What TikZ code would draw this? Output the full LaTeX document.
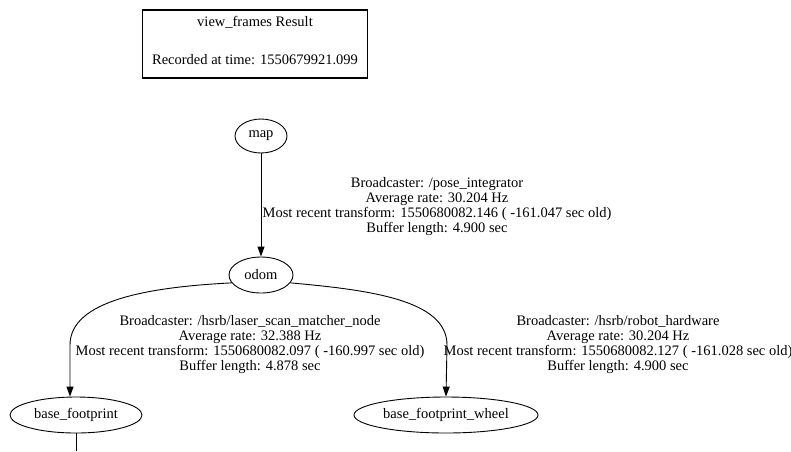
\documentclass[tikz,border=0pt]{standalone}
\usepackage{fontspec}
\setmainfont{Liberation Serif}
\usetikzlibrary{arrows.meta,shapes.geometric}
\begin{document}
\begin{tikzpicture}[x=1pt,y=-1pt,
  font=\fontsize{14.5}{15}\selectfont,
  frame/.style={ellipse,draw,line width=0.9pt,inner sep=0pt},
  tf/.style={draw,line width=0.9pt,-{Triangle[length=10pt,width=7pt]}},
  lbl/.style={align=center,inner sep=0pt}]
\useasboundingbox (0,0) rectangle (791,451);
% header box
\node[draw,line width=1.6pt,minimum width=225pt,minimum height=68pt] (hdr) at (255,44) {};
\node[lbl] (hdrA) at (255,22) {view\_frames Result};
\node[lbl] (hdrB) at (255,60) {Recorded at time: 1550679921.099};
% frames
\node[frame,minimum width=52pt,minimum height=34pt] (map) at (261,136) {map};
\node[frame,minimum width=64pt,minimum height=36pt] (odom) at (261,275) {odom};
\node[frame,minimum width=132pt,minimum height=36pt] (bf) at (76,415) {base\_footprint};
\node[frame,minimum width=184pt,minimum height=36pt] (bfw) at (446,415) {base\_footprint\_wheel};
\coordinate (tail) at (76,451);
% transforms
\draw[tf] (odom.195) .. controls (150,287) and (70,300) .. (70,345) -- (bf.north -| 70,0);
\draw[tf] (map) -- (odom);
\draw[tf] (odom.-15) .. controls (370,290) and (447,300) .. (447,345) -- (bfw.north);
\draw[line width=0.9pt] (bf) -- (tail);
% edge labels
\node[lbl] (l1) at (437,207) {Broadcaster: /pose\_integrator\\Average rate: 30.204 Hz\\Most recent transform: 1550680082.146 ( -161.047 sec old)\\Buffer length: 4.900 sec};
\node[lbl] (l2) at (250,345) {Broadcaster: /hsrb/laser\_scan\_matcher\_node\\Average rate: 32.388 Hz\\Most recent transform: 1550680082.097 ( -160.997 sec old)\\Buffer length: 4.878 sec};
\node[lbl] (l3) at (618,345) {Broadcaster: /hsrb/robot\_hardware\\Average rate: 30.204 Hz\\Most recent transform: 1550680082.127 ( -161.028 sec old)\\Buffer length: 4.900 sec};
\end{tikzpicture}
\end{document}
